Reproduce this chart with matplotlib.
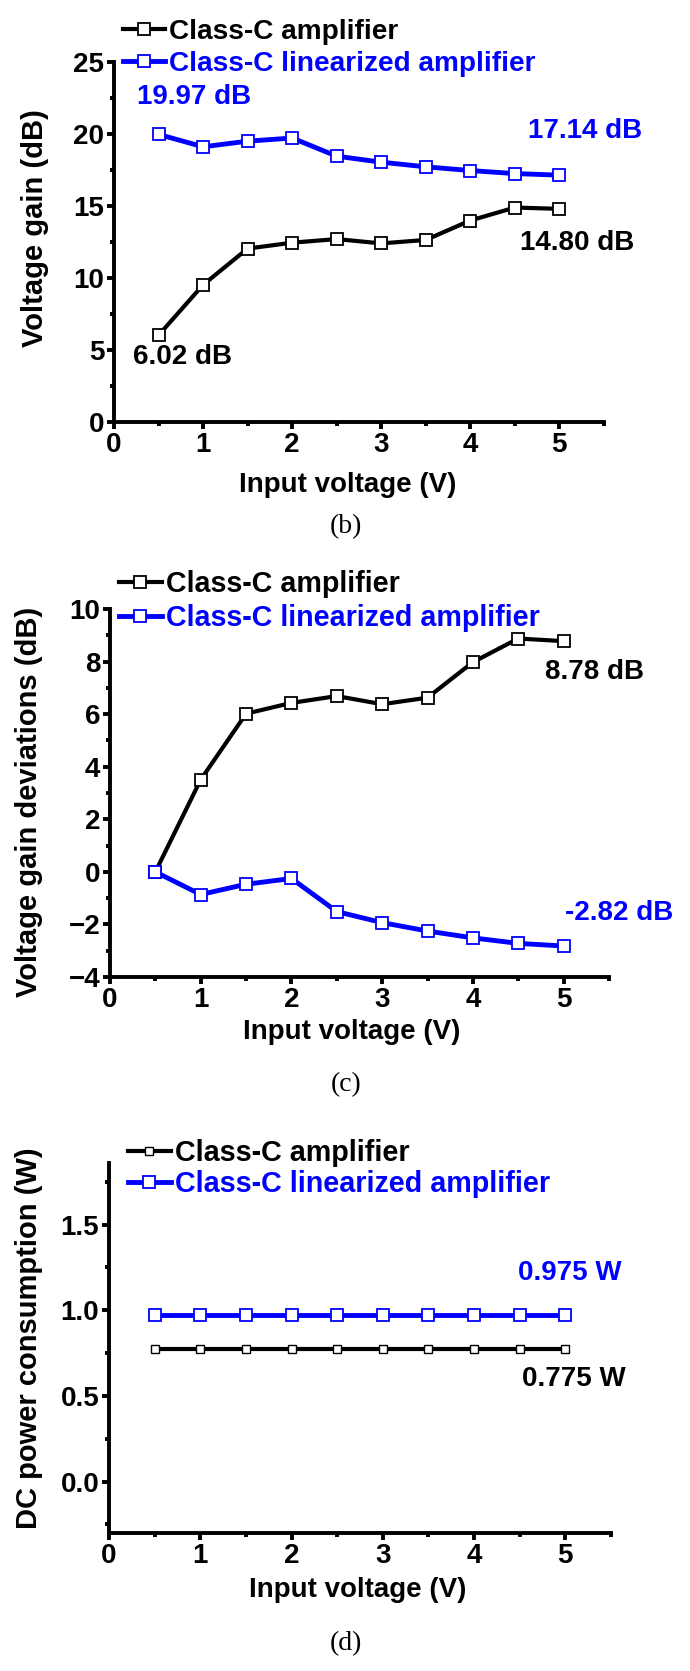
import numpy as np
import matplotlib
matplotlib.use("Agg")
import matplotlib.pyplot as plt
from matplotlib.ticker import MultipleLocator, FormatStrFormatter

# datos
voltaje = [0.5, 1.0, 1.5, 2.0, 2.5, 3.0, 3.5, 4.0, 4.5, 5.0]

ganancia_claseC = [6.02, 9.52, 12.04, 12.45, 12.70, 12.40, 12.64, 13.99, 14.89, 14.80]
ganancia_lineal = [19.97, 19.11, 19.50, 19.72, 18.46, 18.04, 17.72, 17.46, 17.25, 17.14]

desvio_claseC = [0.0, 3.51, 6.02, 6.43, 6.69, 6.38, 6.63, 7.98, 8.88, 8.78]
desvio_lineal = [0.0, -0.86, -0.47, -0.25, -1.51, -1.93, -2.25, -2.51, -2.72, -2.82]

potencia_claseC = [0.775] * 10
potencia_lineal = [0.975] * 10

etiquetas = ["Class-C amplifier", "Class-C linearized amplifier"]
AZUL = "#0000ff"

plt.rcParams["font.family"] = ["Liberation Sans", "DejaVu Sans"]
plt.rcParams["font.weight"] = "bold"
plt.rcParams["axes.labelweight"] = "bold"

fig = plt.figure(figsize=(6.9, 16.71), dpi=100)


def estilo_ejes(ax, ymaj, ymin):
    for s in ["top", "right"]:
        ax.spines[s].set_visible(False)
    for s in ["left", "bottom"]:
        ax.spines[s].set_linewidth(2.8)
    ax.xaxis.set_major_locator(MultipleLocator(1))
    ax.xaxis.set_minor_locator(MultipleLocator(0.5))
    ax.yaxis.set_major_locator(MultipleLocator(ymaj))
    ax.yaxis.set_minor_locator(MultipleLocator(ymin))
    ax.tick_params(which="major", direction="out", length=5, width=2.8, labelsize=20, pad=2)
    ax.tick_params(which="minor", direction="out", length=3, width=2.8)
    for t in ax.get_xticklabels() + ax.get_yticklabels():
        t.set_fontweight("bold")


def leyenda(ax, x, y, tam, sep):
    leg = ax.legend(loc="upper left", bbox_to_anchor=(x, y), bbox_transform=fig.transFigure,
                    frameon=False, fontsize=tam, handlelength=1.5, handletextpad=0.15,
                    labelspacing=sep, borderpad=0, borderaxespad=0)
    leg.get_texts()[1].set_color(AZUL)
    return leg


# ---------- (b) ----------
ax1 = fig.add_axes([0.1652, 0.7475, 0.710, 0.2154])
ax1.plot(voltaje, ganancia_claseC, "-s", color="k", lw=3, ms=8, mfc="white", mec="k", mew=1.3, label=etiquetas[0])
ax1.plot(voltaje, ganancia_lineal, "-s", color=AZUL, lw=3.5, ms=8, mfc="white", mec=AZUL, mew=1.3, label=etiquetas[1])
ax1.set_xlim(0, 5.5)
ax1.set_ylim(0, 25)
estilo_ejes(ax1, 5, 2.5)
ax1.set_xlabel("Input voltage (V)", fontsize=20)
ax1.set_ylabel("Voltage gain (dB)", fontsize=21)
ax1.xaxis.set_label_coords(0.478, -0.175)
ax1.xaxis.label.set_va("center")
ax1.yaxis.set_label_coords(-0.161, 0.54)
ax1.yaxis.label.set_va("center")
ax1.text(0.26, 22.6, "19.97 dB", color=AZUL, fontsize=20, ha="left", va="center")
ax1.text(5.93, 20.2, "17.14 dB", color=AZUL, fontsize=20, ha="right", va="center")
ax1.text(4.56, 12.4, "14.80 dB", color="k", fontsize=20, ha="left", va="center")
ax1.text(0.21, 4.5, "6.02 dB", color="k", fontsize=20, ha="left", va="center")
leyenda(ax1, 0.178, 1 - 19 / 1671, 20.2, 0.2)

# ---------- (c) ----------
ax2 = fig.add_axes([0.1594, 0.4153, 0.7232, 0.2202])
ax2.plot(voltaje, desvio_claseC, "-s", color="k", lw=3, ms=8, mfc="white", mec="k", mew=1.3, label=etiquetas[0])
ax2.plot(voltaje, desvio_lineal, "-s", color=AZUL, lw=3.5, ms=8, mfc="white", mec=AZUL, mew=1.3, label=etiquetas[1])
ax2.set_xlim(0, 5.5)
ax2.set_ylim(-4, 10)
estilo_ejes(ax2, 2, 1)
ax2.set_xlabel("Input voltage (V)", fontsize=20)
ax2.set_ylabel("Voltage gain deviations (dB)", fontsize=21)
ax2.xaxis.set_label_coords(0.485, -0.149)
ax2.xaxis.label.set_va("center")
ax2.yaxis.set_label_coords(-0.162, 0.475)
ax2.yaxis.label.set_va("center")
ax2.text(4.80, 7.6, "8.78 dB", color="k", fontsize=20, ha="left", va="center")
ax2.text(5.02, -1.56, "-2.82 dB", color=AZUL, fontsize=20, ha="left", va="center")
leyenda(ax2, 0.172, 1 - 570 / 1671, 20.6, 0.2)

# ---------- (d) ----------
ax3 = fig.add_axes([0.158, 0.0826, 0.7275, 0.2214])
ax3.plot(voltaje, potencia_claseC, "-s", color="k", lw=3, ms=5.5, mfc="white", mec="k", mew=1.0, label=etiquetas[0])
ax3.plot(voltaje, potencia_lineal, "-s", color=AZUL, lw=3.5, ms=8, mfc="white", mec=AZUL, mew=1.3, label=etiquetas[1])
ax3.set_xlim(0, 5.5)
ax3.set_ylim(-0.3, 1.86)
estilo_ejes(ax3, 0.5, 0.25)
ax3.yaxis.set_major_formatter(FormatStrFormatter("%.1f"))
ax3.set_xlabel("Input voltage (V)", fontsize=20)
ax3.set_ylabel("DC power consumption (W)", fontsize=21)
ax3.xaxis.set_label_coords(0.496, -0.154)
ax3.xaxis.label.set_va("center")
ax3.yaxis.set_label_coords(-0.159, 0.527)
ax3.yaxis.label.set_va("center")
ax3.text(4.48, 1.22, "0.975 W", color=AZUL, fontsize=20, ha="left", va="center")
ax3.text(4.53, 0.60, "0.775 W", color="k", fontsize=20, ha="left", va="center")
leyenda(ax3, 0.185, 1 - 1139 / 1671, 20.7, 0.1)

# rotulos de los paneles
for letra, ypix in [("(b)", 527), ("(c)", 1085), ("(d)", 1644)]:
    fig.text(0.501, 1 - ypix / 1671, letra, fontsize=20, fontweight="normal",
             family=["Liberation Serif", "DejaVu Serif"], ha="center", va="center")

fig.savefig("out.png", dpi=100)
